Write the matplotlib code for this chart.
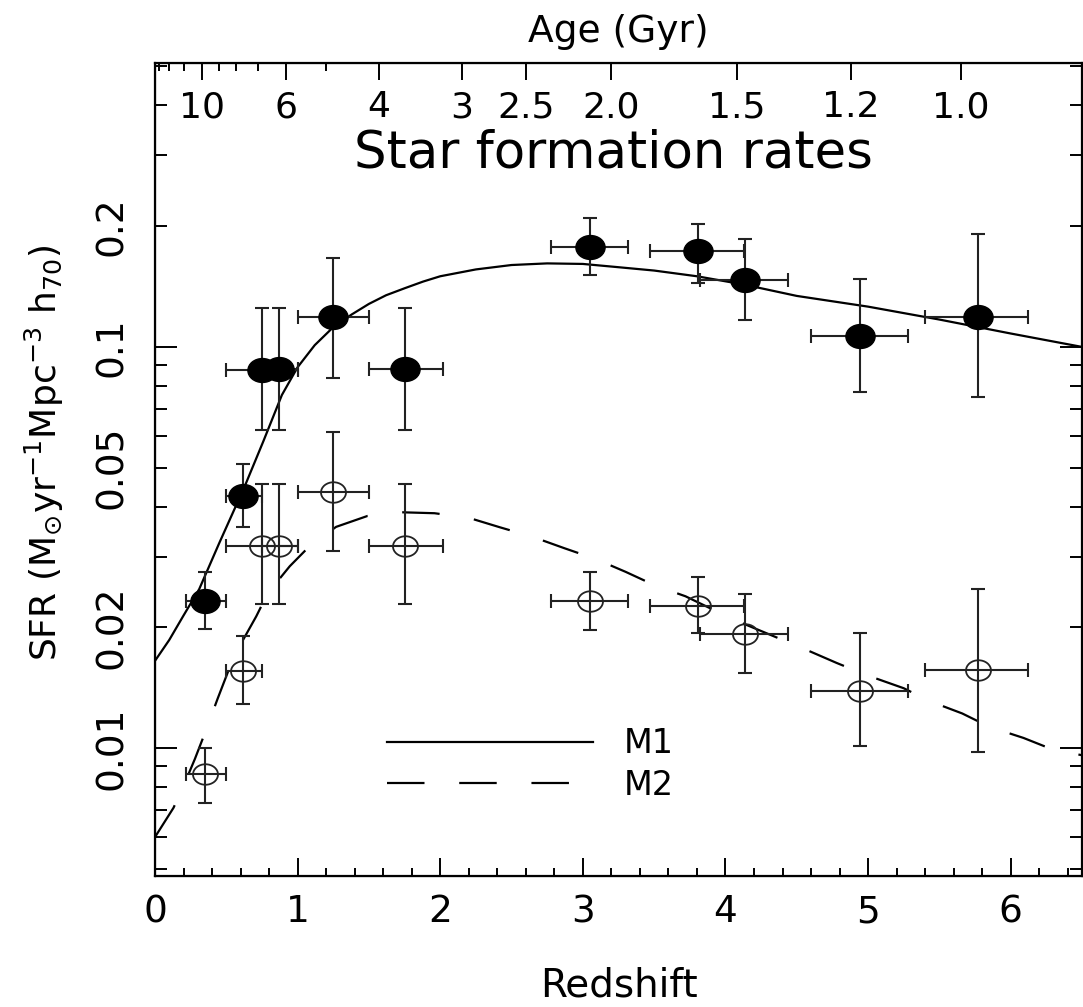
import matplotlib
matplotlib.use("Agg")
import matplotlib.pyplot as plt
import numpy as np
from matplotlib.path import Path
from matplotlib.transforms import Affine2D
from matplotlib.ticker import FixedLocator, FuncFormatter, LogLocator

plt.rcParams["font.family"] = ["DejaVu Sans"]
plt.rcParams["mathtext.default"] = "regular"
plt.rcParams["lines.scale_dashes"] = False

# Data points: redshift, bin edges, and SFR with error bar limits
z_pts = [0.35, 0.62, 0.75, 0.87, 1.25, 1.75, 3.05, 3.81, 4.14, 4.94, 5.77]
z_lo = [0.22, 0.50, 0.50, 0.75, 1.00, 1.50, 2.78, 3.47, 3.82, 4.60, 5.40]
z_hi = [0.50, 0.75, 1.00, 1.00, 1.50, 2.02, 3.32, 4.13, 4.44, 5.28, 6.12]

sfr_filled = [0.0233, 0.0425, 0.0877, 0.0880, 0.1187, 0.0880, 0.177, 0.173, 0.147, 0.1065, 0.119]
sfr_filled_hi = [0.0275, 0.051, 0.125, 0.125, 0.167, 0.125, 0.209, 0.203, 0.186, 0.148, 0.191]
sfr_filled_lo = [0.0198, 0.0355, 0.0622, 0.0622, 0.0838, 0.0622, 0.151, 0.144, 0.117, 0.077, 0.075]

sfr_open = [0.00862, 0.0156, 0.0319, 0.0319, 0.0436, 0.0319, 0.0232, 0.0226, 0.0193, 0.0139, 0.0157]
sfr_open_hi = [0.0100, 0.0190, 0.0455, 0.0455, 0.0615, 0.0455, 0.0275, 0.0267, 0.0242, 0.0194, 0.0249]
sfr_open_lo = [0.0073, 0.0129, 0.0229, 0.0229, 0.0310, 0.0229, 0.0197, 0.0194, 0.0154, 0.0101, 0.0098]

# Model curves
m1_z = [0.0, 0.1, 0.2, 0.31, 0.45, 0.63, 0.76, 0.89, 1.0, 1.12, 1.25, 1.38, 1.5, 1.62,
        1.75, 1.88, 2.0, 2.25, 2.5, 2.75, 3.0, 3.25, 3.5, 3.8, 4.13, 4.5, 5.0, 5.5, 6.0, 6.5]
m1_sfr = [0.0165, 0.0186, 0.0214, 0.0249, 0.0324, 0.045, 0.0582, 0.0759, 0.089, 0.101,
          0.112, 0.1205, 0.128, 0.1345, 0.140, 0.1455, 0.150, 0.156, 0.160, 0.1615,
          0.161, 0.158, 0.155, 0.150, 0.143, 0.134, 0.126, 0.117, 0.108, 0.100]

m2_z = [0.0, 0.13, 0.21, 0.28, 0.35, 0.44, 0.55, 0.61, 0.71, 0.79, 0.945, 1.085, 1.27,
        1.49, 1.74, 1.96, 2.2, 2.42, 2.65, 2.87, 3.09, 3.3, 3.51, 3.72, 3.94, 4.13, 4.37,
        4.58, 4.78, 4.99, 5.25, 5.43, 5.66, 5.85, 6.09, 6.3, 6.5]
m2_sfr = [0.0060, 0.0071, 0.0082, 0.0094, 0.0109, 0.0133, 0.0168, 0.0184, 0.0213, 0.0243,
          0.0284, 0.0319, 0.0356, 0.0379, 0.0387, 0.0385, 0.0375, 0.0355, 0.0336, 0.0315,
          0.0296, 0.0275, 0.0254, 0.0239, 0.0219, 0.0204, 0.0188, 0.0175, 0.0163, 0.0152,
          0.0141, 0.0131, 0.0122, 0.0113, 0.0106, 0.0099, 0.0096]

# Top axis: age of the universe (Gyr) and the redshift where each tick sits
age_major_labels = ["10", "6", "4", "3", "2.5", "2.0", "1.5", "1.2", "1.0"]
age_major_z = [0.33, 0.92, 1.57, 2.15, 2.6, 3.2, 4.08, 4.88, 5.65]
age_minor_z = [0.03, 0.10, 0.20, 0.45, 0.57, 0.72, 1.20]

y_labels = {0.01: "0.01", 0.02: "0.02", 0.05: "0.05", 0.1: "0.1", 0.2: "0.2"}

z = np.array(z_pts)
xerr = [z - np.array(z_lo), np.array(z_hi) - z]
yf = np.array(sfr_filled)
yerr_f = [yf - np.array(sfr_filled_lo), np.array(sfr_filled_hi) - yf]
yo = np.array(sfr_open)
yerr_o = [yo - np.array(sfr_open_lo), np.array(sfr_open_hi) - yo]

# slightly flattened circle, as in the original plot
ellipse = Path.unit_circle().transformed(Affine2D().scale(1.0, 0.82))

fig = plt.figure(figsize=(10.83, 10.07), dpi=100)
ax = fig.add_axes([0.1431, 0.1301, 0.8560, 0.8073])

ax.plot(m1_z, m1_sfr, color="black", lw=1.6, label="M1", zorder=2)
ax.plot(m2_z, m2_sfr, color="black", lw=1.6, dashes=(27, 25), label="M2", zorder=2)

ax.errorbar(z, yf, xerr=xerr, yerr=yerr_f, fmt="none", ecolor="#222222",
            elinewidth=1.5, capsize=5, capthick=1.5, zorder=3)
ax.plot(z, yf, linestyle="none", marker=ellipse, markersize=21,
        color="black", zorder=4)

ax.errorbar(z, yo, xerr=xerr, yerr=yerr_o, fmt="none", ecolor="#222222",
            elinewidth=1.5, capsize=5, capthick=1.5, zorder=3)
ax.plot(z, yo, linestyle="none", marker=ellipse, markersize=18,
        markerfacecolor="none", markeredgecolor="#222222", markeredgewidth=1.3, zorder=4)

ax.set_xlim(0, 6.5)
ax.set_yscale("log")
ax.set_ylim(0.0048, 0.51)

ax.xaxis.set_major_locator(FixedLocator([0, 1, 2, 3, 4, 5, 6]))
ax.xaxis.set_minor_locator(FixedLocator(np.arange(0, 6.6, 0.2)))
ax.yaxis.set_major_locator(FixedLocator([0.01, 0.1]))
ax.yaxis.set_minor_locator(LogLocator(base=10, subs=np.arange(2, 10)))


def ylab(v, pos):
    for k, s in y_labels.items():
        if abs(v - k) / k < 1e-6:
            return s
    return ""


ax.yaxis.set_major_formatter(FuncFormatter(ylab))
ax.yaxis.set_minor_formatter(FuncFormatter(ylab))

ax.tick_params(axis="both", which="both", direction="in", right=True, top=False,
               colors="black", width=1.4, labelsize=27)
ax.tick_params(axis="x", which="major", length=13, pad=13)
ax.tick_params(axis="x", which="minor", length=6)
ax.tick_params(axis="y", which="major", length=16, pad=18)
ax.tick_params(axis="y", which="minor", length=8.5, pad=18)
ax.tick_params(axis="y", which="both", labelrotation=90)
for lbl in ax.get_yticklabels(which="both"):
    lbl.set_va("center")

for sp in ax.spines.values():
    sp.set_linewidth(1.6)

ax.set_xlabel("Redshift", fontsize=28, labelpad=26)
ax.set_ylabel(r"SFR (M$_{\odot}$yr$^{-1}$Mpc$^{-3}$ h$_{70}$)", fontsize=26)
ax.yaxis.set_label_coords(-0.096, 0.52)

# top axis with ages
ax2 = ax.twiny()
ax2.set_xlim(ax.get_xlim())
ax2.set_xticks(age_major_z, age_major_labels)
ax2.set_xticks(age_minor_z, minor=True)
ax2.tick_params(axis="x", which="both", direction="in", labelsize=26, width=1.4)
ax2.tick_params(axis="x", which="major", length=12, pad=-44)
ax2.tick_params(axis="x", which="minor", length=6)
ax2.set_xlabel("Age (Gyr)", fontsize=27, labelpad=12)

ax.text(0.494, 0.889, "Star formation rates", transform=ax.transAxes,
        ha="center", va="center", fontsize=37)

ax.legend(loc="center left", bbox_to_anchor=(0.25, 0.137), frameon=False,
          fontsize=24, handlelength=6.2, handletextpad=0.9, labelspacing=0.25,
          borderpad=0, borderaxespad=0)

fig.savefig("out.png", dpi=100)
